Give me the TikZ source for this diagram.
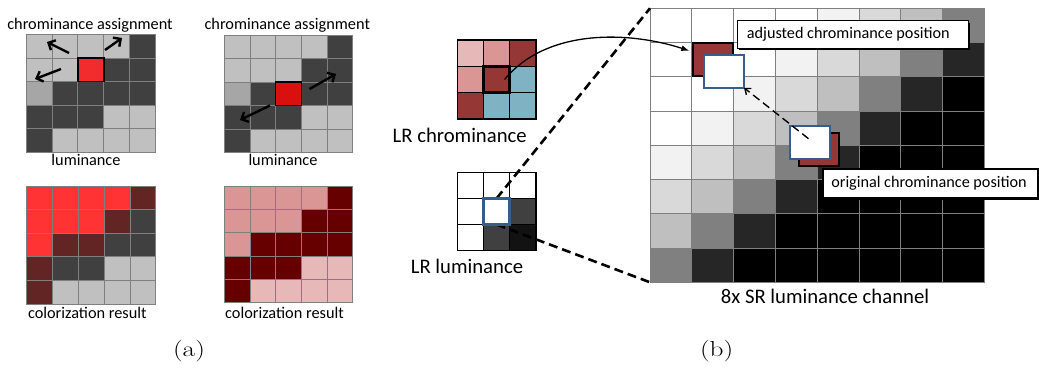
\documentclass[tikz,border=0pt]{standalone}
\usepackage{fontspec}
\usepackage{graphicx}
\newfontfamily\carl{Carlito}
\usetikzlibrary{arrows.meta,calc,shadows}

% greys and reds of the small 5x5 grids
\definecolor{L}{HTML}{C0C0C0}
\definecolor{D}{HTML}{404040}
\definecolor{M}{HTML}{A6A6A6}
\definecolor{rA}{HTML}{F22C2C}
\definecolor{rB}{HTML}{DA1010}
\definecolor{rC}{HTML}{FF3333}
\definecolor{Br}{HTML}{632523}
\definecolor{P}{HTML}{D99694}
\definecolor{Mr}{HTML}{660000}
\definecolor{LP}{HTML}{E6B9B8}
% chrominance samples
\definecolor{chRed}{HTML}{953735}
\definecolor{chBlue}{HTML}{7FB3C4}
\definecolor{boxBlue}{HTML}{385D8A}
\definecolor{Nk}{HTML}{121212}
% grey levels of the super-resolved channel
\definecolor{srA}{HTML}{F2F2F2}
\definecolor{srB}{HTML}{D9D9D9}
\definecolor{srC}{HTML}{BFBFBF}
\definecolor{srD}{HTML}{808080}
\definecolor{srE}{HTML}{262626}
\definecolor{gridGrey}{HTML}{7F7F7F}

% square grid: x0, y0, cell width, cell height, cells per side, colours (row by row), line style
\newcommand\cellgrid[7]{%
  \foreach \cc [count=\k from 0] in {#6} {%
    \pgfmathtruncatemacro\rr{floor(\k/#5)}%
    \pgfmathtruncatemacro\qq{mod(\k,#5)}%
    \fill[\cc] ({#1+\qq*#3},{#2+\rr*#4}) rectangle ++(#3,#4);
  }%
  \foreach \i in {0,...,#5} {%
    \draw[#7] ({#1+\i*#3},{#2}) -- ({#1+\i*#3},{#2+#5*#4});
    \draw[#7] ({#1},{#2+\i*#4}) -- ({#1+#5*#3},{#2+\i*#4});
  }%
}

\begin{document}
\begin{tikzpicture}[x=1pt,y=-1pt,
  lbl/.style={font=\carl\fontsize{16.3}{18}\selectfont, inner sep=0pt, anchor=base},
  biglbl/.style={font=\carl\fontsize{20.7}{23}\selectfont, inner sep=0pt, anchor=base},
  sublbl/.style={font=\fontsize{21.7}{24}\selectfont, inner sep=0pt, anchor=base},
  thingrid/.style={draw=gridGrey, line width=0.8pt, line cap=rect},
  boldgrid/.style={draw=black, line width=1.4pt, line cap=rect},
  selcell/.style={draw=black, line width=1.5pt, inner sep=0pt},
  movearrow/.style={draw=black, line width=2.4pt, -{Straight Barb[length=5.5pt,width=11pt]}},
  blockdash/.style={draw=black, line width=2.6pt, dash pattern=on 9pt off 5pt},
  redsample/.style={draw=black, fill=chRed, line width=2pt, inner sep=0pt,
    minimum width=40pt, minimum height=33pt},
  bluesample/.style={draw=boxBlue, fill=white, line width=2pt, inner sep=0pt,
    minimum width=40.5pt, minimum height=33.3pt},
  callout/.style={draw=black, fill=white, line width=1.5pt, inner sep=0pt,
    font=\carl\fontsize{16.2}{18}\selectfont,
    drop shadow={shadow xshift=1.8pt, shadow yshift=-1.8pt, fill=black, opacity=1}}]

\useasboundingbox[fill=white] (0,0) rectangle (1039,370);

% ---------------- (a) ----------------
\cellgrid{26}{34.7}{25.94}{23.5}{5}{L,L,L,L,D, L,L,rA,D,D, M,D,D,D,D, D,D,D,L,L, D,L,L,L,L}{thingrid}
\node[selcell, minimum width=25.94pt, minimum height=23.5pt] (selA) at (90.85,69.95) {};
\cellgrid{224.3}{35}{25.7}{23.5}{5}{L,L,L,L,D, L,L,L,D,D, M,D,rB,D,D, D,D,D,L,L, D,L,L,L,L}{thingrid}
\node[selcell, minimum width=25.7pt, minimum height=23.5pt] (selB) at (288.55,93.75) {};
\cellgrid{26.7}{186}{25.8}{23.6}{5}{rC,rC,rC,rC,Br, rC,rC,rC,Br,D, rC,Br,Br,D,D, Br,D,D,L,L, Br,L,L,L,L}{thingrid}
\cellgrid{224.3}{186}{25.7}{23.3}{5}{P,P,P,P,Mr, P,P,P,Mr,Mr, P,Mr,Mr,Mr,Mr, Mr,Mr,Mr,LP,LP, Mr,LP,LP,LP,LP}{thingrid}

% search directions
\coordinate (a1s) at (69,53);   \coordinate (a1e) at (47,42);
\coordinate (a2s) at (105,50);  \coordinate (a2e) at (122,38);
\coordinate (a3s) at (61,69);   \coordinate (a3e) at (35,79);
\coordinate (b1s) at (309.5,89); \coordinate (b1e) at (336,74);
\coordinate (b2s) at (270,105.5); \coordinate (b2e) at (240,120);
\draw[movearrow] (a1s) -- (a1e);
\draw[movearrow] (a2s) -- (a2e);
\draw[movearrow] (a3s) -- (a3e);
\draw[movearrow] (b1s) -- (b1e);
\draw[movearrow] (b2s) -- (b2e);

\node[lbl] (ttlA) at (90,29.3) {chrominance assignment};
\node[lbl] (ttlB) at (287.3,29.3) {chrominance assignment};
\node[lbl] (lumA) at (86,165.5) {luminance};
\node[lbl] (lumB) at (283,165.5) {luminance};
\node[lbl] (resA) at (87.3,318.3) {colorization result};
\node[lbl] (resB) at (284.5,318.3) {colorization result};
\node[sublbl] (capA) at (189,356.3) {\scalebox{1.26}[1]{(a)}};

% ---------------- (b) ----------------
% super-resolved luminance: diagonal ramp from white to black
\foreach \r in {0,...,7} {
  \foreach \c in {0,...,7} {
    \pgfmathtruncatemacro\s{\r+\c}
    \edef\srcol{\ifcase\s white\or white\or white\or white\or srA\or srB\or srC\or srD\or srE\else black\fi}
    \fill[\srcol] ({650+\c*41.8},{8.3+\r*34.25}) rectangle ++(41.8,34.25);
  }
}
\foreach \i in {0,...,8} {
  \draw[thingrid] ({650+\i*41.8},8.3) -- ({650+\i*41.8},282.3);
  \draw[thingrid] (650,{8.3+\i*34.25}) -- (984.4,{8.3+\i*34.25});
}
\coordinate (srNW) at (650,8.3);
\coordinate (srSW) at (650,282.3);

% low-resolution chrominance and luminance
\cellgrid{457.3}{40}{26.2}{26.3}{3}{LP,P,chRed, P,chRed,chBlue, chRed,chBlue,chBlue}{boldgrid}
\node[draw=black, line width=3pt, inner sep=0pt, minimum width=26.2pt, minimum height=26.3pt] (lrc) at (496.6,79.45) {};
\cellgrid{457.3}{172.3}{26.2}{26.1}{3}{white,white,white, white,white,D, white,D,Nk}{boldgrid}

\draw[blockdash] (496.6,198.4) -- (srNW);
\draw[blockdash] (496.6,224.5) -- (srSW);
\node[draw=boxBlue, line width=3pt, inner sep=0pt, minimum width=26.2pt, minimum height=26.1pt] (lumBlue) at (496.6,211.45) {};

\node[biglbl] (lrcLbl) at (459.7,142.3) {LR chrominance};
\node[biglbl] (lrlLbl) at (467,273.3) {LR luminance};
\node[biglbl] (srLbl) at (825,303.3) {8x SR luminance channel};

% chrominance samples: adjusted and original positions
\node[redsample] (adjRed) at (713.3,59.7) {};
\node[bluesample] (adjBlue) at (723.8,71.7) {};
\node[redsample] (orgRed) at (819.3,149.2) {};
\node[bluesample] (orgBlue) at (810,142.7) {};

\draw[line width=1.4pt, dash pattern=on 8pt off 4.5pt, -{Straight Barb[length=5pt,width=8pt]}]
  ([xshift=-1.5pt,yshift=4pt]orgBlue.center) -- ([xshift=-1pt,yshift=1.5pt]adjBlue.south east);

\draw[line width=1.3pt, -{Latex[length=8pt,width=6pt]}]
  ([xshift=8pt]lrc.center) .. controls (545,30) and (625,30) .. ([xshift=-3pt,yshift=9pt]adjRed.west);

\node[callout, minimum width=231pt, minimum height=27.6pt] (adjLbl) at (852.8,34.5)
  {\hspace*{-9pt}adjusted chrominance position};
\node[callout, minimum width=215pt, minimum height=29pt] (orgLbl) at (930.5,183.5)
  {\hspace*{-3pt}original chrominance position};

\node[sublbl] (capB) at (716.7,356.3) {\scalebox{1.26}[1]{(b)}};
\end{tikzpicture}
\end{document}
